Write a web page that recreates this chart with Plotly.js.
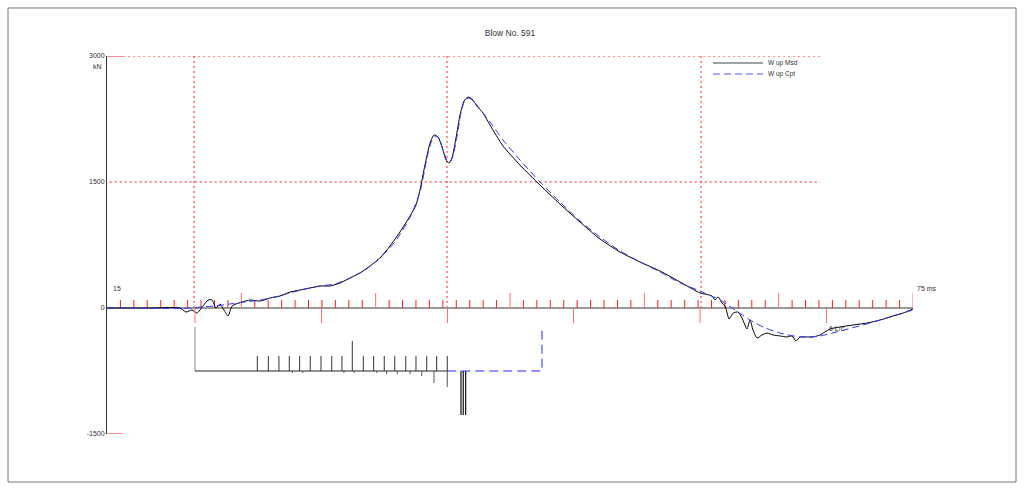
<!DOCTYPE html>
<html><head><meta charset="utf-8">
<script src="https://cdn.plot.ly/plotly-3.0.1.min.js"></script>
<style>html,body{margin:0;padding:0;background:#fff}#chart{width:1024px;height:490px}</style>
</head><body><div id="chart"></div>
<script>
// Measured (Msd) and computed (Cpt) wave-up force, kN vs time, ms
const msdTime = [15,18.2,20.43,20.88,21.33,21.70,22.15,22.52,22.82,23.11,23.41,23.71,24.01,24.31,24.60,25.05,25.65,26.39,27.13,27.88,28.62,29.37,30.11,30.86,31.60,32.35,33.09,33.83,34.58,35.32,36.07,36.81,37.56,38.0,38.30,38.67,39.05,39.34,39.64,39.94,40.24,40.46,40.68,40.98,41.28,41.58,41.87,42.17,42.54,42.99,43.51,44.48,45.74,47.23,48.72,50.21,51.70,53.19,54.68,56.17,57.66,59.15,60.04,60.26,60.49,60.78,61.01,61.31,61.61,61.97,62.27,62.64,62.87,63.09,63.39,63.76,64.13,64.58,65.10,65.62,65.99,66.29,66.59,67.11,67.56,68.08,68.82,69.57,70.54,71.58,72.55,73.51,74.26,75.0];
const msdForce = [0,0,0,-48,-24,-60,24,95,95,0,48,-24,-95,24,48,71,95,83,119,143,190,214,238,262,262,298,357,417,500,595,738,905,1095,1226,1405,1702,1964,2060,2036,1917,1762,1726,1786,2024,2298,2464,2512,2488,2405,2321,2179,1929,1702,1464,1238,1024,821,667,548,440,310,179,143,95,131,60,24,-131,-60,-48,-119,-250,-143,-262,-357,-321,-298,-321,-333,-345,-333,-393,-345,-345,-345,-321,-250,-226,-202,-179,-143,-95,-60,-12];
const cptTime = [15,21.5,21.92,23.04,24.16,25.27,26.39,27.5,28.62,29.74,30.86,31.97,33.09,34.21,35.32,36.44,37.56,38.30,38.82,39.19,39.42,39.71,40.01,40.31,40.53,40.76,41.06,41.35,41.65,41.95,42.40,43.51,44.48,45.74,47.23,48.72,50.21,51.70,53.19,54.68,56.17,57.66,59.15,60.64,61.75,62.87,63.99,65.10,66.59,68.08,69.57,71.80,74.03,75.0];
const cptForce = [0,0,12,24,48,71,95,131,179,226,262,286,357,452,595,786,1083,1381,1786,2000,2048,2024,1881,1762,1738,1810,2048,2321,2476,2500,2441,2214,2000,1762,1500,1262,1036,845,679,548,429,298,202,95,-24,-143,-238,-298,-345,-333,-274,-179,-71,-24];

// Resistance distribution diagram (below the axis)
const shaftTime = [26.19,27.01,27.80,28.57,29.34,30.13,30.93,31.73,32.49,33.26,34.08,34.85,35.64,36.42,37.24,38.00,38.80,39.54,40.33];
const shaftRes  = [179,179,179,179,179,179,179,179,179,357,179,179,179,179,179,179,179,179,179];
const dampTime  = [28.80,29.57,32.64,33.39,35.08,35.82,36.61,37.56,38.43,39.34,40.33];
const dampRes   = [24,24,24,24,24,36,36,36,60,143,190];
const toeTime   = [41.35,41.52,41.70];
const toeRes    = [524,524,524];
const diagBase = -750, diagTop = -226, diagStart = 21.55, diagEnd = 47.38;

// Axis furniture
const yTickVals = [-1500,0,1500,3000];
const yTickText = ['-1500','0','1500','3000'];
const lcTimes = [21.55,30.97,40.35,49.73,59.15,68.56];
const vDotTimes = [21.48,40.31,59.22];
const tStart = 15, tEnd = 75;

const RED = 'rgb(255,30,30)';
const PINK = 'rgb(255,110,110)';
const shapes = [];
function seg(x0,y0,x1,y1,color,width,dash,layer){
  shapes.push({type:'line',xref:'x',yref:'y',x0:x0,y0:y0,x1:x1,y1:y1,
    line:{color:color,width:width||1,dash:dash||'solid'},layer:layer||'below'});
}
// frame
shapes.push({type:'rect',xref:'paper',yref:'paper',x0:-0.1228,x1:1.1278,y0:-0.127,y1:1.127,line:{color:'#777',width:1},layer:'below'});
// horizontal grid
seg(15,3000,16.2,3000,RED,1);
seg(16.2,3000,68.08,3000,RED,1,'2px,3px');
seg(15.2,1500,68.08,1500,RED,1,'2px,3px');
seg(15,-1500,16.2,-1500,RED,1);
// vertical dotted
vDotTimes.forEach(t=>seg(t,3000,t,10,RED,1,'2px,3px'));
// x axis line
seg(tStart,0,tEnd,0,'#333',1);
// minor/major ticks
for(let t=16;t<=75;t++){
  const major = ((t-15)%10===0) || t===75;
  if(major) seg(t,0,t,179,PINK,1);
  else seg(t,0,t,95,RED,1);
}
lcTimes.forEach(t=>seg(t,0,t,-179,PINK,1,'solid','above'));

// diagram lines as traces
function ticks(times,vals,dir){
  const x=[],y=[];
  times.forEach((t,i)=>{x.push(t,t,null);y.push(diagBase,diagBase+dir*vals[i],null);});
  return {x:x,y:y};
}
const up = ticks(shaftTime,shaftRes,1);
const dn = ticks(dampTime,dampRes,-1);
const toe = ticks(toeTime,toeRes,-1);

const traces = [
  {x:[diagStart,diagStart],y:[diagTop,diagBase],mode:'lines',line:{color:'#888',width:1},hoverinfo:'skip'},
  {x:[diagStart,shaftTime[shaftTime.length-1]],y:[diagBase,diagBase],mode:'lines',line:{color:'#222',width:1},hoverinfo:'skip'},
  {x:up.x,y:up.y,mode:'lines',line:{color:'#333',width:1},hoverinfo:'skip'},
  {x:dn.x,y:dn.y,mode:'lines',line:{color:'#555',width:1},hoverinfo:'skip'},
  {x:toe.x,y:toe.y,mode:'lines',line:{color:'#111',width:1.2},hoverinfo:'skip'},
  {x:[shaftTime[shaftTime.length-1],diagEnd,diagEnd],y:[diagBase,diagBase,diagTop],mode:'lines',line:{color:'rgb(40,40,255)',width:1,dash:'9px,5px'},hoverinfo:'skip'},
  {x:msdTime,y:msdForce,name:'W up Msd',mode:'lines',line:{color:'#000',width:1,shape:'spline',smoothing:0.6}},
  {x:cptTime,y:cptForce,name:'W up Cpt',mode:'lines',line:{color:'rgb(50,50,255)',width:1,dash:'7px,4px',shape:'spline',smoothing:0.6}}
];

const F = 'Liberation Sans, Arial, sans-serif';
const annotations = [
  {xref:'paper',yref:'y',x:0,y:3000,xanchor:'right',yanchor:'top',yshift:-5,xshift:-3,text:'kN',showarrow:false,font:{family:F,size:7,color:'#333'}},
  {xref:'x',yref:'y',x:15.3,y:230,xanchor:'left',yanchor:'middle',text:'15',showarrow:false,font:{family:F,size:7,color:'#333'}},
  {xref:'x',yref:'y',x:75,y:230,xanchor:'left',yanchor:'middle',xshift:2,text:'75 ms',showarrow:false,font:{family:F,size:7,color:'#333'}},
  {xref:'x',yref:'y',x:68.6,y:-240,xanchor:'left',yanchor:'middle',text:'6 L/c',showarrow:false,font:{family:F,size:7,color:'#333'}},
  {xref:'paper',yref:'paper',x:(766-107)/806,y:(434-63)/378,xanchor:'left',yanchor:'middle',text:'W up Msd',showarrow:false,font:{family:F,size:6.5,color:'#333'}},
  {xref:'paper',yref:'paper',x:(766-107)/806,y:(434-74)/378,xanchor:'left',yanchor:'middle',text:'W up Cpt',showarrow:false,font:{family:F,size:6.5,color:'#333'}}
];
shapes.push({type:'line',xref:'paper',yref:'paper',x0:(713-107)/806,x1:(763-107)/806,y0:(434-63)/378,y1:(434-63)/378,line:{color:'#444',width:1}});
shapes.push({type:'line',xref:'paper',yref:'paper',x0:(713-107)/806,x1:(763-107)/806,y0:(434-74)/378,y1:(434-74)/378,line:{color:'rgb(80,80,255)',width:1,dash:'7px,4px'}});

const layout = {
  width:1024,height:490,
  margin:{l:107,r:111,t:56,b:56,pad:0},
  paper_bgcolor:'#fff',plot_bgcolor:'rgba(0,0,0,0)',
  showlegend:false,
  title:{text:'Blow No. 591',x:0.5,xref:'paper',xanchor:'center',y:1-33/490,yref:'container',yanchor:'middle',font:{family:F,size:8.5,color:'#333'}},
  xaxis:{range:[tStart,tEnd],showgrid:false,zeroline:false,showline:false,showticklabels:false,ticks:''},
  yaxis:{range:[-1500,3000],showgrid:false,zeroline:false,showline:true,linecolor:'#333',linewidth:1,
    tickvals:yTickVals,ticktext:yTickText,ticks:'',tickfont:{family:F,size:7,color:'#333'}},
  shapes:shapes,annotations:annotations
};
Plotly.newPlot('chart',traces,layout,{staticPlot:true,displayModeBar:false});
</script></body></html>
